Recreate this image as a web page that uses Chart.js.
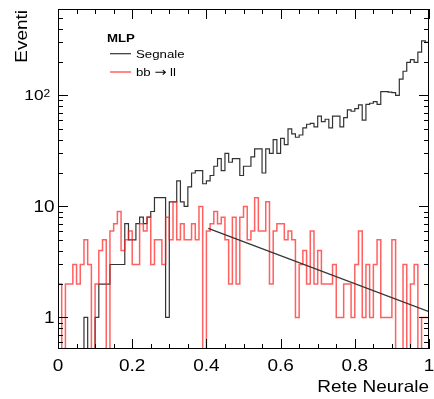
<!DOCTYPE html>
<html>
<head>
<meta charset="utf-8">
<script src="https://cdn.jsdelivr.net/npm/chart.js@4.4.1/dist/chart.umd.min.js"></script>
<style>
    html, body { margin: 0; padding: 0; background: #ffffff; }
    #wrap { width: 434px; height: 399px; }
</style>
</head>
<body>
<div id="wrap"><canvas id="mlp-chart" width="434" height="399"></canvas></div>
<script>
/**
 * MLP output distribution: signal vs bb -> ll background
 * 100 bins on [0, 1], log y axis, ROOT-like frame
 */

// Histogram binning
const binWidth = 0.01;

// Signal counts per bin
const signalCounts = [
    0, 0, 0, 0, 0, 0, 0, 1, 0, 0,
    1, 2, 2, 2, 3, 3, 3, 3, 7, 5,
    5, 7, 8, 7, 8, 9, 12, 12, 12, 1,
    11, 11, 17, 11, 10, 15, 20, 21, 21, 16,
    17, 19, 23, 27, 21, 30, 25, 27, 27, 19,
    23, 23, 28, 33, 33, 20, 33, 30, 40, 30,
    41, 36, 50, 45, 42, 44, 51, 55, 56, 52,
    65, 58, 61, 51, 65, 65, 52, 63, 74, 72,
    76, 82, 60, 83, 85, 88, 83, 108, 108, 107,
    106, 100, 140, 165, 198, 210, 198, 245, 310, 300
];

// bb -> ll background counts per bin
const backgroundCounts = [
    2, 0, 2, 2, 3, 2, 3, 5, 3, 0,
    2, 4, 5, 0, 6, 7, 9, 4, 5, 6,
    3, 3, 7, 6, 8, 3, 5, 5, 3, 8,
    5, 11, 5, 7, 5, 5, 7, 5, 10, 0,
    6, 7, 9, 7, 8, 5, 2, 8, 2, 8,
    10, 5, 6, 12, 6, 6, 11, 2, 6, 7,
    7, 5, 6, 5, 1, 3, 4, 2, 6, 2,
    4, 2, 2, 2, 3, 1, 1, 2, 2, 1,
    3, 6, 1, 3, 1, 3, 5, 1, 1, 1,
    5, 0, 0, 3, 0, 2, 3, 0, 1, 1
];

// Exponential fit to the background above 0.4 (end points)
const fitX = [0.405, 1.0];
const fitY = [6.35, 1.13];

// Axis ranges and tick labels
const xMin = 0, xMax = 1;
const yMin = 0.52, yMax = 600;
const xTickValues = [0, 0.2, 0.4, 0.6, 0.8, 1];
const xTickLabels = ['0', '0.2', '0.4', '0.6', '0.8', '1'];
const xMinorStep = 0.05;
const yTickValues = [1, 10, 100];
const yTickBases = ['1', '10', '10'];
const yTickExponents = ['', '', '2'];

const xTitle = 'Rete Neurale';
const yTitle = 'Eventi';
const legendHeader = 'MLP';

// Empty bins sit below the axis and get clipped to the frame
const zeroFloor = 0.1;
const fontFamily = '"Liberation Sans", Arial, Helvetica, sans-serif';
const arrowFamily = '"DejaVu Sans", sans-serif';
const textStretch = 1.15;

/**
 * Build step-histogram points from bin counts
 */
function histPoints(counts) {
    const pts = counts.map((c, i) => ({ x: i * binWidth, y: c > 0 ? c : zeroFloor }));
    pts.push({ x: counts.length * binWidth, y: pts[pts.length - 1].y });
    return pts;
}

/**
 * Draw horizontally stretched text (Helvetica-like look)
 */
function drawText(ctx, text, x, y, opts) {
    opts = opts || {};
    ctx.save();
    ctx.translate(x, y);
    if (opts.rotate) ctx.rotate(opts.rotate);
    ctx.scale(textStretch, 1);
    ctx.font = (opts.bold ? 'bold ' : '') + (opts.size || 16.5) + 'px ' + (opts.family || fontFamily);
    ctx.textAlign = opts.align || 'left';
    ctx.textBaseline = 'alphabetic';
    ctx.fillStyle = opts.color || '#000000';
    ctx.fillText(text, 0, 0);
    const w = ctx.measureText(text).width * textStretch;
    ctx.restore();
    return w;
}

/**
 * Legend label; the arrow uses a font with a long arrow glyph
 */
function drawLabel(ctx, text, x, y, size) {
    const parts = text.split('\u2192');
    let cx = x;
    parts.forEach((part, i) => {
        if (i > 0) {
            cx += drawText(ctx, '\u2192', cx, y + 0.5, { size: size + 1, family: arrowFamily });
        }
        cx += drawText(ctx, part, cx, y, { size: size });
    });
}

function strokeLine(ctx, x1, y1, x2, y2) {
    ctx.beginPath();
    ctx.moveTo(x1, y1);
    ctx.lineTo(x2, y2);
    ctx.stroke();
}

/**
 * Frame, inside ticks, labels, titles and legend
 */
const rootFramePlugin = {
    id: 'rootFrame',
    afterDraw(chart) {
        const ctx = chart.ctx;
        const area = chart.chartArea;
        const xs = chart.scales.x;
        const ys = chart.scales.y;

        ctx.save();
        ctx.strokeStyle = '#000000';
        ctx.lineWidth = 1;

        // Frame
        ctx.strokeRect(Math.round(area.left) + 0.5, Math.round(area.top) + 0.5,
            Math.round(area.right - area.left) - 1, Math.round(area.bottom - area.top) - 1);

        // X ticks, bottom and top
        const nMinor = Math.round((xMax - xMin) / xMinorStep);
        for (let i = 0; i <= nMinor; i++) {
            const v = xMin + i * xMinorStep;
            const px = Math.round(xs.getPixelForValue(v)) + 0.5;
            const isMajor = xTickValues.some(t => Math.abs(t - v) < 1e-6);
            const len = isMajor ? 10 : 5;
            strokeLine(ctx, px, area.bottom, px, area.bottom - len);
            strokeLine(ctx, px, area.top, px, area.top + len);
        }

        // Y ticks, left and right (log decades)
        [0.1, 1, 10, 100].forEach(decade => {
            for (let m = 1; m <= 9; m++) {
                const v = m * decade;
                if (v < yMin || v > yMax) continue;
                const py = Math.round(ys.getPixelForValue(v)) + 0.5;
                const len = m === 1 ? 10 : 5;
                strokeLine(ctx, area.left, py, area.left + len, py);
                strokeLine(ctx, area.right, py, area.right - len, py);
            }
        });

        // X tick labels
        xTickValues.forEach((v, i) => {
            drawText(ctx, xTickLabels[i], xs.getPixelForValue(v), area.bottom + 22, { align: 'center' });
        });

        // Y tick labels
        yTickValues.forEach((v, i) => {
            const py = ys.getPixelForValue(v);
            if (yTickExponents[i]) {
                drawText(ctx, yTickBases[i], 43.5, py + 5, { align: 'right', size: 15 });
                drawText(ctx, yTickExponents[i], 43.5, py + 1.5, { align: 'left', size: 10.5 });
            } else {
                drawText(ctx, yTickBases[i], 54.5, py + 6, { align: 'right' });
            }
        });

        // Axis titles
        drawText(ctx, xTitle, area.right, area.bottom + 42.5, { align: 'right' });
        drawText(ctx, yTitle, 27, area.top + 1, { align: 'right', rotate: -Math.PI / 2 });

        // Legend
        drawText(ctx, legendHeader, 107, 42, { bold: true, size: 11.5 });
        const entries = chart.data.datasets
            .filter(ds => ds.legendRank !== undefined)
            .sort((a, b) => a.legendRank - b.legendRank);
        entries.forEach((ds, i) => {
            const y = 53.7 + i * 18.3;
            ctx.strokeStyle = ds.borderColor;
            ctx.lineWidth = ds.borderWidth;
            strokeLine(ctx, 110, y, 131, y);
            drawLabel(ctx, ds.label, 136, y + 3.8, 11.5);
        });

        ctx.restore();
    }
};

function initChart() {
    const canvas = document.getElementById('mlp-chart');

    new Chart(canvas, {
        type: 'line',
        data: {
            datasets: [
                {
                    label: 'fit',
                    data: fitX.map((x, i) => ({ x: x, y: fitY[i] })),
                    borderColor: '#333333',
                    borderWidth: 1.2
                },
                {
                    label: 'bb \u2192 ll',
                    data: histPoints(backgroundCounts),
                    borderColor: 'rgba(255, 30, 30, 0.7)',
                    borderWidth: 1.5,
                    stepped: 'before',
                    legendRank: 1
                },
                {
                    label: 'Segnale',
                    data: histPoints(signalCounts),
                    borderColor: '#333333',
                    borderWidth: 1.2,
                    stepped: 'before',
                    legendRank: 0
                }
            ]
        },
        options: {
            responsive: false,
            animation: false,
            devicePixelRatio: 1,
            layout: { padding: { left: 58, right: 5, top: 9, bottom: 50 } },
            plugins: {
                legend: { display: false },
                tooltip: { enabled: false }
            },
            elements: {
                point: { radius: 0 },
                line: { tension: 0, fill: false }
            },
            scales: {
                x: { type: 'linear', min: xMin, max: xMax, display: false },
                y: { type: 'logarithmic', min: yMin, max: yMax, display: false }
            }
        },
        plugins: [rootFramePlugin]
    });
}

initChart();
</script>
</body>
</html>
